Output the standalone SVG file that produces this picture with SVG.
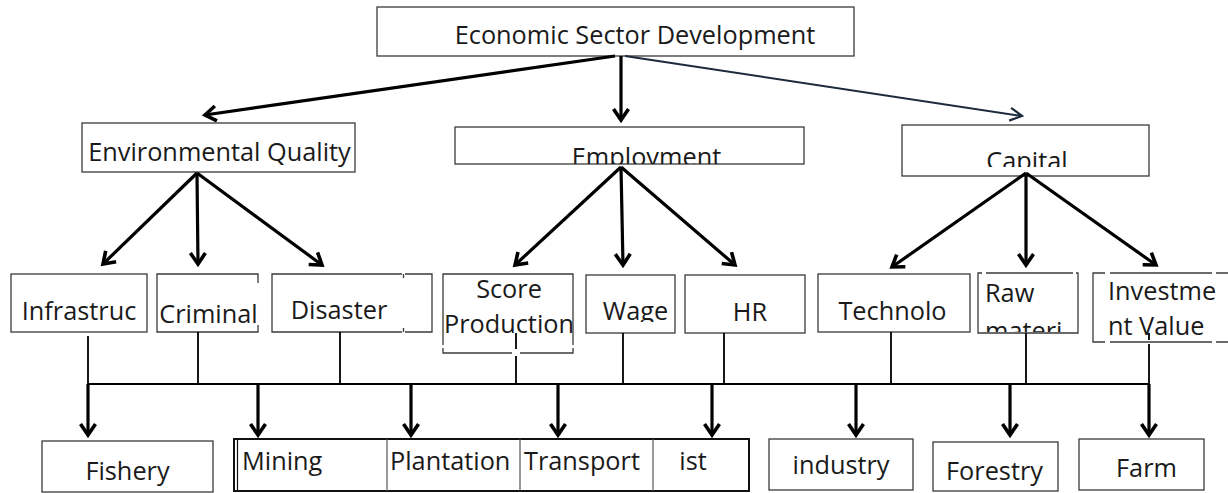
<svg xmlns="http://www.w3.org/2000/svg" width="1228" height="493" viewBox="0 0 1228 493">
<style>
.box{fill:#fff;stroke:#3a3a3a;stroke-width:1.3}
.ln{fill:none;stroke:#3a3a3a;stroke-width:1.3}
.t{font-family:"Open Sans","Noto Sans",sans-serif;font-size:25.3px;fill:#1a1a1a}
.m{text-anchor:middle}
.arr{fill:none;stroke:#000;stroke-width:3.2;marker-end:url(#ah)}
.thin{fill:none;stroke:#1c2a3c;stroke-width:2;marker-end:url(#ahThin)}
.v{fill:none;stroke:#000;stroke-width:1.8}
.bus{fill:none;stroke:#000;stroke-width:2.2}
.div{fill:none;stroke:#555;stroke-width:1.2}
</style>
<defs>
<marker id="ah" markerUnits="userSpaceOnUse" viewBox="-16 -12 20 24" markerWidth="20" markerHeight="24" refX="0" refY="0" orient="auto" overflow="visible">
<path d="M-11,-7.5 L0,0 L-11,7.5" fill="none" stroke="#000" stroke-width="3.6"/>
</marker>
<marker id="ahThin" markerUnits="userSpaceOnUse" viewBox="-16 -12 20 24" markerWidth="20" markerHeight="24" refX="0" refY="0" orient="auto" overflow="visible">
<path d="M-12,-6.5 L0,0 L-12,6.5" fill="none" stroke="#1c2a3c" stroke-width="2.2"/>
</marker>
<clipPath id="cEmp"><rect x="455" y="127" width="349" height="37"/></clipPath>
<clipPath id="cCap"><rect x="902" y="125" width="247" height="42"/></clipPath>
<clipPath id="cWage"><rect x="586" y="275" width="89" height="47"/></clipPath>
<clipPath id="cRaw"><rect x="978" y="273" width="100" height="59"/></clipPath>
</defs>

<g id="n-economic">
<rect class="box" x="377" y="7" width="477" height="49"/>
<text class="t m" x="635" y="44">Economic Sector Development</text>
</g>

<g id="n-environmental">
<rect class="box" x="82" y="123" width="273" height="49"/>
<text class="t m" x="219.5" y="161">Environmental Quality</text>
</g>

<g id="n-employment">
<rect class="box" x="455" y="127" width="349" height="37"/>
<text class="t m" x="646.5" y="166" clip-path="url(#cEmp)">Employment</text>
</g>

<g id="n-capital">
<rect class="box" x="902" y="125" width="247" height="51"/>
<text class="t m" x="1027" y="170" clip-path="url(#cCap)">Capital</text>
</g>

<g id="n-infrastruc">
<rect class="box" x="11" y="274" width="136" height="58"/>
<text class="t m" x="79" y="320">Infrastruc</text>
</g>

<g id="n-criminal">
<path class="ln" d="M258,283 V274 H157 V332 H258 V325"/>
<text class="t m" x="208.5" y="323">Criminal</text>
</g>

<g id="n-disaster">
<path class="ln" d="M402,274 H272 V332 H402 M405,274 H432 V332 H405 M403.5,274 V278 M403.5,328 V332"/>
<text class="t m" x="339" y="319">Disaster</text>
</g>

<g id="n-score">
<path class="ln" d="M443,345 V274 H573 V345"/>
<path class="ln" d="M443,348 V353 H512 M520,353 H573 V348"/>
<text class="t m" x="509" y="298">Score</text>
<text class="t m" x="509" y="333">Production</text>
</g>

<g id="n-wage">
<rect class="box" x="586" y="275" width="89" height="58"/>
<text class="t m" x="635.5" y="320" clip-path="url(#cWage)">Wage</text>
</g>

<g id="n-hr">
<rect class="box" x="685" y="275" width="120" height="58"/>
<text class="t m" x="750" y="321">HR</text>
</g>

<g id="n-technolo">
<rect class="box" x="818" y="274" width="152" height="58"/>
<text class="t m" x="892.5" y="320">Technolo</text>
</g>

<g id="n-raw">
<path class="ln" d="M982,273 H978 V333 H1078 V273 H1076 M986,273 H1073"/>
<text class="t" x="985" y="302" clip-path="url(#cRaw)">Raw</text>
<text class="t" x="985" y="340" clip-path="url(#cRaw)">materi</text>
</g>

<g id="n-investment">
<path class="ln" d="M1105,273 H1093 V342 H1105 M1110,273 H1212 M1216,273 H1228 M1110,342 H1212 M1216,342 H1228"/>
<text class="t" x="1108" y="300">Investme</text>
<text class="t" x="1108" y="335">nt Value</text>
</g>

<g id="n-fishery">
<rect class="box" x="42" y="441" width="171" height="51"/>
<text class="t m" x="127.5" y="480">Fishery</text>
</g>

<g id="n-group">
<rect x="234" y="439" width="515" height="52" fill="#fff" stroke="#111" stroke-width="2"/>
<line x1="237.5" y1="439" x2="237.5" y2="491" stroke="#111" stroke-width="1.2"/>
<line class="div" x1="387" y1="439" x2="387" y2="491"/>
<line class="div" x1="520" y1="439" x2="520" y2="491"/>
<line class="div" x1="653" y1="439" x2="653" y2="491"/>
</g>
<g id="n-mining"><text class="t" x="242" y="470">Mining</text></g>
<g id="n-plantation"><text class="t" x="390" y="470">Plantation</text></g>
<g id="n-transport"><text class="t" x="524" y="470">Transport</text></g>
<g id="n-ist"><text class="t m" x="693" y="470">ist</text></g>

<g id="n-industry">
<rect class="box" x="769" y="439" width="144" height="51"/>
<text class="t m" x="841" y="474">industry</text>
</g>

<g id="n-forestry">
<rect class="box" x="933" y="442" width="125" height="49"/>
<text class="t m" x="994.5" y="480">Forestry</text>
</g>

<g id="n-farm">
<rect class="box" x="1079" y="439" width="125" height="51"/>
<text class="t m" x="1146.5" y="477">Farm</text>
</g>

<g id="connectors">
<line class="arr" x1="615" y1="56" x2="205" y2="115"/>
<line class="arr" x1="621" y1="56" x2="621" y2="120"/>
<line class="thin" x1="625" y1="56" x2="1022" y2="116"/>

<line class="arr" x1="197" y1="173" x2="103" y2="264"/>
<line class="arr" x1="197" y1="173" x2="198" y2="264"/>
<line class="arr" x1="197" y1="173" x2="322" y2="265"/>

<line class="arr" x1="621" y1="167" x2="515" y2="265"/>
<line class="arr" x1="621" y1="167" x2="623" y2="265"/>
<line class="arr" x1="621" y1="167" x2="735" y2="265"/>

<line class="arr" x1="1026" y1="173" x2="892" y2="267"/>
<line class="arr" x1="1026" y1="173" x2="1026" y2="265"/>
<line class="arr" x1="1026" y1="173" x2="1156" y2="265"/>

<path class="v" d="M88,336 V384 M198,332 V384 M340,332 V384 M516,333 V349 M516,356 V384 M623,333 V384 M724,333 V384 M891,332 V384 M1026,333 V384 M1149,333 V340 M1149,344 V384"/>
<line class="bus" x1="88" y1="384" x2="1149" y2="384"/>

<line class="arr" x1="88" y1="384" x2="88" y2="435"/>
<line class="arr" x1="258" y1="384" x2="258" y2="435"/>
<line class="arr" x1="411" y1="384" x2="411" y2="435"/>
<line class="arr" x1="558" y1="384" x2="558" y2="435"/>
<line class="arr" x1="712" y1="384" x2="712" y2="435"/>
<line class="arr" x1="856" y1="384" x2="856" y2="435"/>
<line class="arr" x1="1010" y1="384" x2="1010" y2="435"/>
<line class="arr" x1="1149" y1="384" x2="1149" y2="435"/>
</g>
</svg>
